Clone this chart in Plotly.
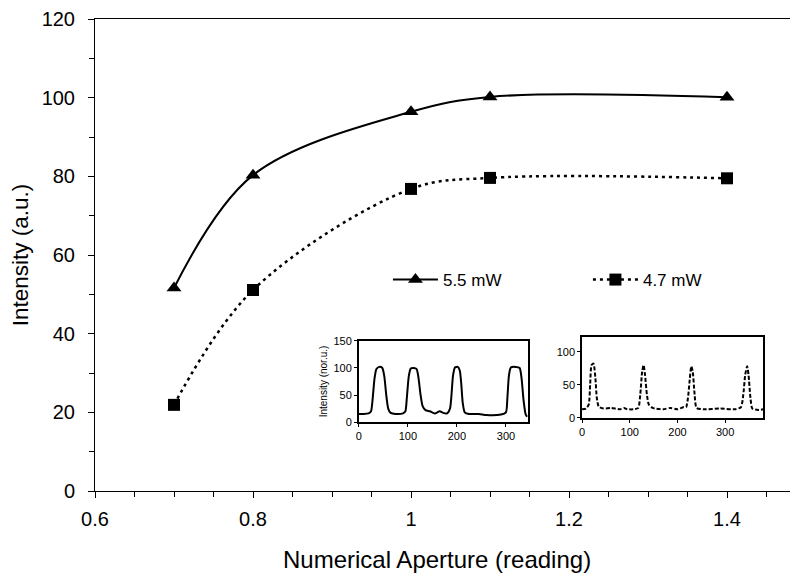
import plotly.graph_objects as go

# main curves: numerical aperture vs intensity
na = [0.7, 0.8, 1.0, 1.1, 1.4]
p55 = [51.6, 80.3, 96.4, 100.2, 100.1]
p47 = [21.9, 51.1, 76.8, 79.6, 79.5]

# inset profiles
prof1_x = [0, 10, 20, 25, 28, 32, 36, 42, 48, 52, 56, 60, 65, 75, 90, 95, 98, 102, 106, 112,
           118, 122, 126, 130, 136, 145, 155, 165, 172, 180, 186, 189, 192, 196, 202, 206, 209,
           212, 216, 225, 245, 260, 290, 300, 303, 306, 310, 320, 328, 332, 336, 340, 343]
prof1_y = [15, 15, 16, 20, 40, 80, 98, 102, 100, 85, 50, 25, 17, 15, 16, 20, 45, 85, 99, 100,
           98, 80, 50, 30, 22, 20, 16, 20, 17, 16, 25, 50, 85, 101, 102, 95, 70,
           35, 18, 15, 15, 13, 14, 18, 45, 85, 101, 102, 100, 80, 40, 15, 10]

prof2_x = [0, 8, 14, 17, 20, 24, 28, 31, 35, 45, 60, 80, 88, 95, 110, 118, 122, 126, 129, 132,
           136, 140, 148, 170, 185, 200, 212, 218, 222, 226, 229, 232, 236, 240, 255, 290, 320,
           333, 338, 342, 346, 349, 353, 357, 370, 380]
prof2_y = [13, 14, 20, 50, 80, 82, 60, 30, 17, 14, 15, 13, 15, 13, 13, 15, 35, 70, 80, 65,
           35, 20, 15, 13, 15, 13, 16, 16, 30, 60, 78, 70, 35, 15, 13, 14, 13,
           16, 35, 65, 78, 65, 30, 14, 12, 13]

FONT = "Liberation Sans, Arial, sans-serif"

fig = go.Figure()

fig.add_trace(go.Scatter(
    x=na, y=p55, name="5.5 mW", mode="lines+markers",
    line=dict(color="black", width=2, shape="spline"),
    marker=dict(symbol="triangle-up", size=13, color="black"),
))
fig.add_trace(go.Scatter(
    x=na, y=p47, name="4.7 mW", mode="lines+markers",
    line=dict(color="black", width=2.5, shape="spline", dash="3px,4px"),
    marker=dict(symbol="square", size=12, color="black"),
))

fig.add_trace(go.Scatter(
    x=prof1_x, y=prof1_y, xaxis="x2", yaxis="y2", mode="lines", showlegend=False,
    line=dict(color="black", width=2, shape="spline", smoothing=0.6),
))
fig.add_trace(go.Scatter(
    x=prof2_x, y=prof2_y, xaxis="x3", yaxis="y3", mode="lines", showlegend=False,
    line=dict(color="black", width=2, shape="spline", smoothing=0.6, dash="4px,2px"),
))

inset_axis = dict(
    showline=True, linecolor="black", linewidth=1.5, mirror=True,
    ticks="outside", ticklen=3, tickcolor="black", showgrid=False, zeroline=False,
    tickfont=dict(family=FONT, size=11, color="black"),
)

# page body has an 8px margin, so the figure is shifted; margins compensate
fig.update_layout(
    width=798, height=576,
    margin=dict(l=87, r=0, t=11, b=93),
    paper_bgcolor="white", plot_bgcolor="white",
    font=dict(family=FONT, color="black"),
    xaxis=dict(
        range=[0.6, 1.5], tick0=0.6, dtick=0.2,
        showline=True, linecolor="black", linewidth=1, mirror=True,
        ticks="outside", ticklen=6, tickcolor="black",
        minor=dict(dtick=0.05, ticks="outside", ticklen=5, tickcolor="black"),
        showgrid=False, zeroline=False,
        tickfont=dict(size=20), ticklabelstandoff=4,
    ),
    yaxis=dict(
        range=[0, 120], dtick=20,
        showline=True, linecolor="black", linewidth=1,
        ticks="outside", ticklen=6, tickcolor="black",
        minor=dict(dtick=10, ticks="outside", ticklen=5, tickcolor="black"),
        showgrid=False, zeroline=False,
        tickfont=dict(size=20), ticklabelstandoff=9,
        title=dict(text="Intensity (a.u.)", font=dict(size=22.5), standoff=12),
    ),
    xaxis2=dict(domain=[0.371, 0.609], anchor="y2", range=[0, 345], dtick=100, **inset_axis),
    yaxis2=dict(domain=[0.146, 0.318], anchor="x2", range=[0, 150], dtick=50,
                title=dict(text="Intensity (nor.u.)", font=dict(size=10), standoff=4),
                **inset_axis),
    xaxis3=dict(domain=[0.685, 0.940], anchor="y3", range=[0, 380], dtick=100, **inset_axis),
    yaxis3=dict(domain=[0.155, 0.326], anchor="x3", range=[0, 122], dtick=50, **inset_axis),
    legend=dict(
        orientation="h", x=0.412, y=0.447, xanchor="left", yanchor="middle",
        font=dict(size=17), bgcolor="rgba(0,0,0,0)",
        itemwidth=45, entrywidth=140, entrywidthmode="pixels",
    ),
    annotations=[dict(
        text="Numerical Aperture (reading)", xref="paper", yref="paper",
        x=0.481, y=-0.146, xanchor="center", yanchor="middle",
        showarrow=False, font=dict(size=24),
    )],
)

fig.write_html("out.html")
